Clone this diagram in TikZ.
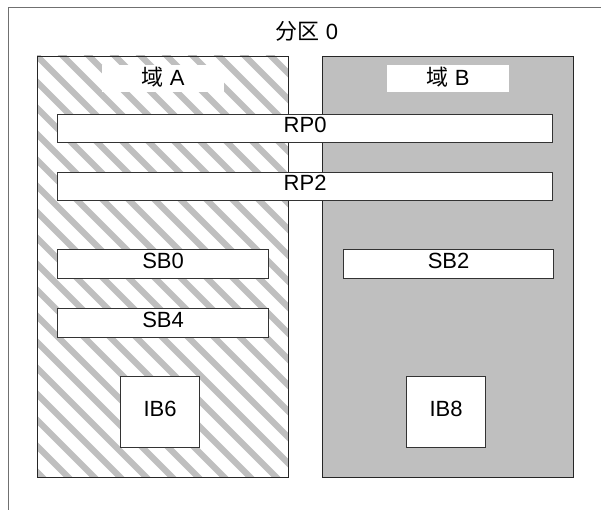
\documentclass[tikz,border=0pt]{standalone}
\usepackage{fontspec}
\setmainfont{Liberation Sans}
\newfontfamily\cjk{Noto Sans CJK SC}
\definecolor{shade}{HTML}{BFBFBF}
\definecolor{edge}{HTML}{333333}
\definecolor{frame}{HTML}{707070}
\begin{document}
\begin{tikzpicture}[x=1pt,y=-1pt,
  every node/.style={font=\fontsize{22}{26}\selectfont, inner sep=0pt},
  box/.style={draw=edge, line width=1.2pt, fill=white, anchor=north west, text depth=7pt},
  dombox/.style={draw=black!85, line width=1pt, anchor=north west},
  tag/.style={fill=white, anchor=north west, text depth=5pt},
  stripe/.style={draw=shade, line width=6.2pt}]
\useasboundingbox (0,0) rectangle (601,510);
% outer partition frame
\draw[frame, line width=1pt] (8,512) -- (8,8) -- (603,8);
\node (title) at (307,31) {{\cjk 分区} 0};
% domain A (hatched)
\fill[white] (37,56) rectangle (288,477);
\begin{scope}
  \clip (37,56) rectangle (288,477);
  \foreach \k in {-11,...,18}
    \draw[stripe] (0,19+26*\k) -- (620,639+26*\k);
\end{scope}
\node[dombox, minimum width=251, minimum height=421] (domA) at (37,56) {};
% domain B (grey)
\node[dombox, fill=shade, minimum width=251, minimum height=421] (domB) at (322,56) {};
% domain labels
\node[tag, minimum width=122, minimum height=27] (labA) at (102,65) {{\cjk 域} A};
\node[tag, minimum width=122, minimum height=27] (labB) at (387,65) {{\cjk 域} B};
% boxes
\node[box, minimum width=495, minimum height=28] (rp0) at (57,114) {RP0};
\node[box, minimum width=495, minimum height=28] (rp2) at (57,172) {RP2};
\node[box, minimum width=211, minimum height=29] (sb0) at (57,249) {SB0};
\node[box, minimum width=211, minimum height=29] (sb4) at (57,308) {SB4};
\node[box, minimum width=210, minimum height=29] (sb2) at (343,249) {SB2};
\node[box, minimum width=79, minimum height=71] (ib6) at (120,376) {IB6};
\node[box, minimum width=79, minimum height=71] (ib8) at (406,376) {IB8};
\end{tikzpicture}
\end{document}
